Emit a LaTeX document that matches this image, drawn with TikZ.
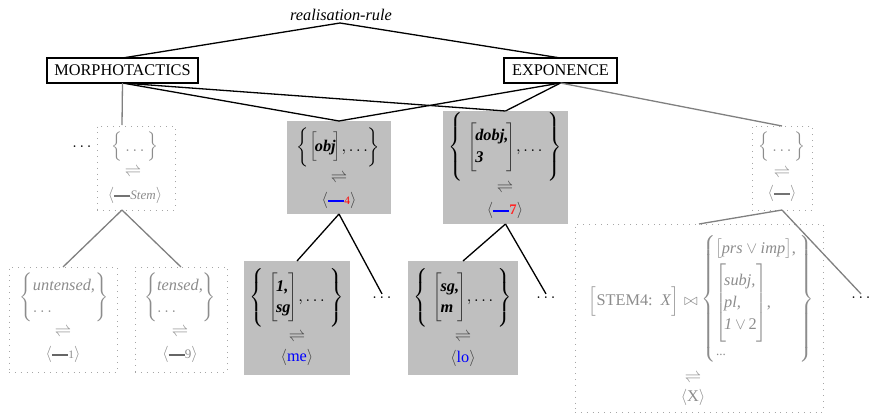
\documentclass[tikz,border=0pt]{standalone}
\usepackage{fontspec}
\setmainfont{Liberation Serif}
\delimiterfactor=1000
\delimitershortfall=0pt
\newcommand{\ldel}[2]{\mathopen{\nulldelimiterspace=0pt\left#1\vrule height \dimexpr#2pt/2+2.5pt\relax depth \dimexpr#2pt/2-2.5pt\relax width 0pt\right.}}
\newcommand{\rdel}[2]{\mathclose{\nulldelimiterspace=0pt\left.\vrule height \dimexpr#2pt/2+2.5pt\relax depth \dimexpr#2pt/2-2.5pt\relax width 0pt\right#1}}
\newcommand{\myharp}{$\rightleftharpoons$}
\newcommand{\myslot}[2]{$\langle$\textcolor{#1}{\rule[0.3ex]{1em}{0.9pt}}#2$\rangle$}
\newcommand{\bi}[1]{\textbf{\textit{#1}}}
\begin{document}
\begin{tikzpicture}[x=0.6135pt,y=-0.6135pt,
  every node/.style={inner sep=0pt, outer sep=0pt},
  sz/.style 2 args={minimum width={#1*0.6135pt}, minimum height={#2*0.6135pt}},
  labbox/.style={draw=black, line width=0.75pt},
  shbox/.style={fill=black!25},
  dotbox/.style={draw=black!35, line width=0.6pt, dash pattern=on 0.6pt off 3pt},
  blk/.style={draw=black, line width=0.8pt},
  gry/.style={draw=black!50, line width=0.8pt},
  gtxt/.style={text=black!45},
  dtxt/.style={text=black!75},
  dotnode/.style={inner sep=2pt},
]
\useasboundingbox (0,0) rectangle (871,414);

% top labels
\node (rr) at (341,15) {\textit{realisation-rule}};
\coordinate (rrtip) at (340,23);
\node[labbox, sz={151}{25}] (morph) at (122.5,70.5) {MORPHOTACTICS};
\node[labbox, sz={113}{25}] (expo) at (560.5,70.5) {EXPONENCE};

% boxes
\node[dotbox, sz={78}{84}] (stem) at (136,168) {};
\node[shbox, sz={104}{93}] (obj) at (339,167.5) {};
\node[shbox, sz={125}{113}] (dobj) at (505.5,167.5) {};
\node[dotbox, sz={60}{84}] (rbox) at (782,168) {};
\node[dotbox, sz={108}{105}] (unt) at (63,319.5) {};
\node[dotbox, sz={92}{105}] (ten) at (181,319.5) {};
\node[shbox, sz={106}{114}] (me) at (297,318) {};
\node[shbox, sz={110}{114}] (lo) at (463,318) {};
\node[dotbox, sz={248}{188}] (big) at (699,318) {};

% dots
\node (d0) at (82,147) {$\ldots$};
\node[dotnode] (d1) at (382,298) {$\ldots$};
\node[dotnode] (d2) at (546,298) {$\ldots$};
\node[dotnode] (d3) at (861,298) {$\ldots$};

\coordinate (stemtop) at (122,125);
\coordinate (stembot) at (122,210);

% connectors
\draw[blk] (rrtip) -- (morph.north);
\draw[blk] (rrtip) -- (expo.north);
\draw[blk] (morph.south) -- (obj.north);
\draw[blk] (morph.south) -- (dobj.north);
\draw[blk] (expo.south) -- (obj.north);
\draw[blk] (expo.south) -- (dobj.north);
\draw[gry] (morph.south) -- (stemtop);
\draw[gry] (expo.south) -- (rbox.north);
\draw[gry] (stembot) -- (unt.north);
\draw[gry] (stembot) -- (ten.north);
\draw[blk] (obj.south) -- (me.north);
\draw[blk] (obj.south) -- (d1.north);
\draw[blk] (dobj.south) -- (lo.north);
\draw[blk] (dobj.south) -- (d2.north);
\draw[gry] (rbox.south) -- (big.north);
\draw[gry] (rbox.south) -- (d3.north);

% stem content
\node[gtxt] (stemA) at (135,147) {$\Bigl\{\,\ldots\,\Bigr\}$};
\node[gtxt] (stemB) at (133,172) {\myharp};
\node[gtxt] (stemC) at (135,195) {\myslot{black!55}{{\footnotesize\textit{Stem}}}};

% obj content
\node (objA) at (338.5,147) {$\biggl\{\textcolor{black!75}{\Bigl[}\mkern-2mu\bi{obj}\mkern-2mu\textcolor{black!75}{\Bigr]},\ldots\biggr\}$};
\node[dtxt] (objB) at (339,178) {\myharp};
\node[dtxt] (objC) at (339,200) {\myslot{blue}{\textcolor{red}{\scriptsize 4}}};

% dobj content
\node (dobjA) at (505,147) {\renewcommand{\arraystretch}{1.1}$\ldel\{{37}\,\textcolor{black!75}{\ldel[{30}}\mkern-4mu\begin{tabular}{@{}l@{}}\bi{dobj,}\\\bi{3}\end{tabular}\mkern-4mu\textcolor{black!75}{\rdel]{30}},\ldots\,\rdel\}{37}$};
\node[dtxt] (dobjB) at (505,188) {\myharp};
\node[dtxt] (dobjC) at (505,210) {\myslot{blue}{\textcolor{red!85}{\small\bfseries 7}}};

% me content
\node (meA) at (296.5,297.5) {\renewcommand{\arraystretch}{1.1}$\ldel\{{36}\,\textcolor{black!75}{\ldel[{30}}\mkern-4mu\begin{tabular}{@{}l@{}}\bi{1,}\\\bi{sg}\end{tabular}\mkern-4mu\textcolor{black!75}{\rdel]{30}},\ldots\,\rdel\}{36}$};
\node[dtxt] (meB) at (297,337) {\myharp};
\node[dtxt] (meC) at (297,357) {$\langle$\textcolor{blue}{me}$\rangle$};

% lo content
\node (loA) at (463,297.5) {\renewcommand{\arraystretch}{1.1}$\ldel\{{36}\,\textcolor{black!75}{\ldel[{30}}\mkern-4mu\begin{tabular}{@{}l@{}}\bi{sg,}\\\bi{m}\end{tabular}\mkern-4mu\textcolor{black!75}{\rdel]{30}},\ldots\,\rdel\}{36}$};
\node[dtxt] (loB) at (463,337) {\myharp};
\node[dtxt] (loC) at (463,358) {$\langle$\textcolor{blue}{lo}$\rangle$};

% untensed content
\node[gtxt] (untA) at (64,297) {\renewcommand{\arraystretch}{1.1}$\Biggl\{\begin{tabular}{@{}l@{}}\textit{untensed,}\\$\ldots$\end{tabular}\Biggr\}$};
\node[gtxt] (untB) at (63,332) {\myharp};
\node[gtxt] (untC) at (63,354) {\myslot{black!60}{{\scriptsize 1}}};

% tensed content
\node[gtxt] (tenA) at (180,297) {\renewcommand{\arraystretch}{1.1}$\Biggl\{\begin{tabular}{@{}l@{}}\textit{tensed,}\\$\ldots$\end{tabular}\Biggr\}$};
\node[gtxt] (tenB) at (180,332) {\myharp};
\node[gtxt] (tenC) at (180,354) {\myslot{black!60}{{\footnotesize 9}}};

% right box content
\node[gtxt] (rA) at (782,147) {$\Bigl\{\,\ldots\,\Bigr\}$};
\node[gtxt] (rB) at (782,173) {\myharp};
\node[gtxt] (rC) at (782,193) {\myslot{black!55}{}};

% big box content
\node[gtxt] (bigA) at (634,301.5) {$\Bigl[$STEM4:\enspace\textit{X}$\Bigr]$};
\node[gtxt] (bigJ) at (691,301.5) {$\bowtie$};
\node[gtxt] (bigL) at (709.5,299) {$\ldel\{{78}$};
\node[gtxt] (bigR) at (805.5,299) {$\rdel\}{78}$};
\node[gtxt, anchor=west] (bigR1) at (715,249) {$\bigl[\textit{prs}\vee\textit{imp}\bigr]$,};
\node[gtxt, anchor=west] (bigR2) at (715,303) {\renewcommand{\arraystretch}{1.15}$\ldel[{43}\mkern-4mu\begin{tabular}{@{}l@{}}\textit{subj,}\\\textit{pl,}\\\textit{1}\,$\vee$\,2\end{tabular}\mkern-3mu\rdel]{43}$,};
\node[gtxt, anchor=west] (bigR3) at (716,355) {\footnotesize ...};
\node[gtxt] (bigB) at (693,378) {\myharp};
\node[gtxt] (bigC) at (693,397) {$\langle$X$\rangle$};
\end{tikzpicture}
\end{document}
